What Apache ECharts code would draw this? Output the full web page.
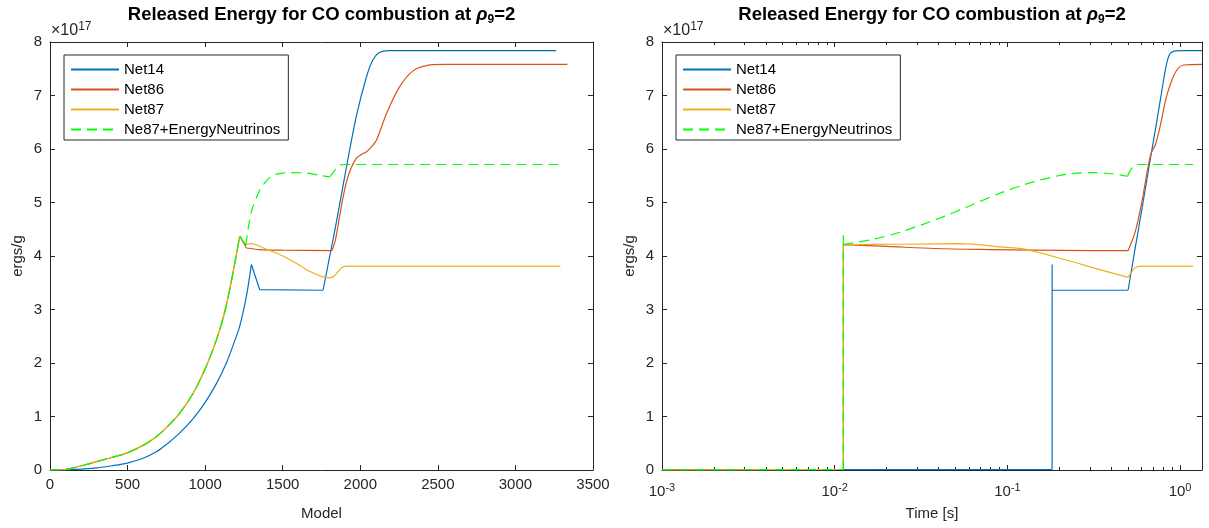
<!DOCTYPE html>
<html lang="en">
<head>
<meta charset="UTF-8">
<title>Released Energy for CO combustion</title>
<style>
    html, body {margin: 0; padding: 0; background: #fff;}
    #main {width: 1209px; height: 528px;}
</style>
</head>
<body>
<div id="main"></div>
<script src="https://cdn.jsdelivr.net/npm/echarts@6/dist/echarts.min.js"></script>
<script>
// series names / colours (MATLAB default order + green dashed)
var seriesNames = ['Net14', 'Net86', 'Net87', 'Ne87+EnergyNeutrinos'];
var seriesColors = ['#0072BD', '#D95319', '#EDB120', '#00FF00'];

// y ticks (x 10^17 ergs/g)
var yTicks = [0, 1, 2, 3, 4, 5, 6, 7, 8];
// model axis ticks
var modelTicks = [0, 500, 1000, 1500, 2000, 2500, 3000, 3500];
// time axis (log) ticks
var timeMajorTicks = [0.001, 0.01, 0.1, 1];
var timeMinorTicks = [0.002, 0.003, 0.004, 0.005, 0.006, 0.007, 0.008, 0.009,
    0.02, 0.03, 0.04, 0.05, 0.06, 0.07, 0.08, 0.09,
    0.2, 0.3, 0.4, 0.5, 0.6, 0.7, 0.8, 0.9];

// null = break in the line (keeps sharp corners when smoothing)

// ---- left panel: energy vs model number ----
var modelNet14 = [[0, 0], [100, 0.003], [169, 0.01], [300, 0.04], [400, 0.08], [498, 0.13], [600, 0.22],
    [685, 0.34], [760, 0.5], [835, 0.69], [920, 0.95], [997, 1.25], [1070, 1.6], [1137, 2.0],
    [1180, 2.33], [1223, 2.69], [1266, 3.25], [1298, 3.84], null,
    [1298, 3.84], [1352, 3.37], null,
    [1352, 3.37], [1760, 3.36], null,
    [1760, 3.36], [1800, 3.95], [1845, 4.62], [1910, 5.65], [1975, 6.62], [2040, 7.35], [2080, 7.66],
    [2120, 7.8], [2180, 7.84], [3263, 7.84]];
// common rise shared by Net86, Net87 and the neutrino curve
var modelRise = [[0, 0], [83, 0.005], [150, 0.04], [255, 0.12], [380, 0.22], [498, 0.32], [600, 0.46],
    [685, 0.62], [760, 0.82], [835, 1.06], [920, 1.42], [997, 1.87], [1050, 2.25], [1094, 2.62],
    [1130, 3.0], [1158, 3.37], [1190, 3.85], [1223, 4.37]];
var modelNet86Tail = [null, [1223, 4.37], [1266, 4.15], null,
    [1266, 4.15], [1350, 4.12], [1500, 4.11], [1818, 4.1], null,
    [1818, 4.1], [1840, 4.3], [1870, 4.8], [1900, 5.25], [1932, 5.58], [1975, 5.83], [2010, 5.9],
    [2040, 5.95], [2075, 6.05], [2105, 6.17], [2170, 6.67], [2255, 7.17], [2340, 7.46], [2426, 7.56],
    [2550, 7.58], [3335, 7.58]];
var modelNet87Tail = [null, [1223, 4.37], [1262, 4.21], null,
    [1262, 4.21], [1298, 4.23], [1400, 4.12], [1502, 4.0], [1600, 3.84], [1676, 3.71], [1750, 3.62],
    [1801, 3.59], null,
    [1801, 3.59], [1830, 3.62], [1860, 3.72], [1885, 3.79], [1920, 3.81], [3290, 3.81]];
var modelNuTail = [null, [1223, 4.37], [1262, 4.2], null,
    [1262, 4.2], [1276, 4.49], [1300, 4.85], [1352, 5.23], [1400, 5.42], [1438, 5.51], [1500, 5.55],
    [1545, 5.56], [1652, 5.55], [1750, 5.5], [1803, 5.48], null,
    [1803, 5.48], [1835, 5.6], [1868, 5.7], [1900, 5.71], [3290, 5.71]];

// ---- right panel: energy vs time ----
var timeNet14 = [[0.001, 0.003], [0.1816, 0.01], null,
    [0.1816, 0.01], [0.1816, 3.84], null,
    [0.1816, 3.84], [0.1816, 3.36], null,
    [0.1816, 3.36], [0.5, 3.36], null,
    [0.5, 3.36], [0.55, 4.15], [0.6, 4.86], [0.67, 5.78], [0.73, 6.48], [0.79, 7.15], [0.83, 7.55],
    [0.87, 7.77], [0.92, 7.83], [1.0, 7.84], [1.34, 7.84]];
var timeNet86 = [[0.001, 0], [0.01122, 0.01], null,
    [0.01122, 0.01], [0.01122, 4.21], null,
    [0.01122, 4.21], [0.02, 4.18], [0.0377, 4.14], [0.08, 4.12], [0.143, 4.11], [0.3, 4.1], [0.5, 4.1], null,
    [0.5, 4.1], [0.55, 4.45], [0.6, 5.0], [0.647, 5.6], [0.68, 5.92], [0.72, 6.08], [0.77, 6.45],
    [0.83, 6.95], [0.9, 7.3], [0.97, 7.5], [1.05, 7.57], [1.34, 7.58]];
var timeNet87 = [[0.001, 0], [0.01122, 0.01], null,
    [0.01122, 0.01], [0.01122, 4.21], null,
    [0.01122, 4.21], [0.0242, 4.22], [0.0537, 4.23], [0.0916, 4.17], [0.13, 4.12], [0.222, 3.92],
    [0.347, 3.74], [0.5, 3.6], null,
    [0.5, 3.6], [0.53, 3.72], [0.555, 3.79], [0.62, 3.81], [1.19, 3.81]];
var timeNu = [[0.001, 0], [0.01122, 0.01], null,
    [0.01122, 0.01], [0.01122, 4.39], null,
    [0.01122, 4.39], [0.01122, 4.22], null,
    [0.01122, 4.22], [0.016, 4.3], [0.0242, 4.45], [0.04, 4.7], [0.0589, 4.92], [0.09, 5.17],
    [0.143, 5.39], [0.223, 5.53], [0.318, 5.56], [0.42, 5.53], [0.496, 5.49], null,
    [0.496, 5.49], [0.52, 5.62], [0.555, 5.71], [1.19, 5.71]];

var font = 'Liberation Sans, Arial, sans-serif';
var axisColor = '#262626';
var titleText = '{t|Released Energy for CO combustion at }{r|ρ}{s|9}{t|=2}';
var titleRich = {
    t: {fontFamily: font, fontSize: 18.5, fontWeight: 'bold', color: '#000'},
    r: {fontFamily: font, fontSize: 18.5, fontWeight: 'bold', fontStyle: 'italic', color: '#000'},
    s: {fontFamily: font, fontSize: 12, fontWeight: 'bold', color: '#000', padding: [10, 0, 0, 0]}
};

function axis(gridIndex, position, showLabel) {
    return {
        gridIndex: gridIndex,
        position: position,
        axisLine: {show: true, onZero: false, lineStyle: {color: axisColor, width: 1}},
        axisTick: {show: true, inside: true, length: 5, lineStyle: {color: axisColor}},
        axisLabel: {show: showLabel, color: axisColor, fontFamily: font, fontSize: 15},
        splitLine: {show: false},
        nameTextStyle: {color: axisColor, fontFamily: font, fontSize: 15}
    };
}

function modelAxis(position, showLabel) {
    var a = axis(0, position, showLabel);
    a.type = 'value';
    a.min = modelTicks[0];
    a.max = modelTicks[modelTicks.length - 1];
    a.interval = 500;
    a.axisLabel.margin = 7;
    a.axisLabel.formatter = function (v) { return String(v); };
    return a;
}

function timeAxis(position, ticks, tickLen, showLabel) {
    var a = axis(1, position, showLabel);
    a.type = 'log';
    a.logBase = 10;
    a.min = 0.001;
    a.max = 1.34;
    a.axisTick.customValues = ticks;
    a.axisTick.length = tickLen;
    a.axisLabel.customValues = timeMajorTicks;
    a.axisLabel.margin = 12;
    a.axisLabel.formatter = function (v) {
        var e = Math.round(Math.log10(v));
        if (Math.abs(Math.log10(v) - e) > 1e-6) return '';
        return '{b|10}{p|' + e + '}';
    };
    a.axisLabel.rich = {
        b: {fontFamily: font, fontSize: 15, color: axisColor},
        p: {fontFamily: font, fontSize: 11, color: axisColor, padding: [0, 0, 9, 0]}
    };
    return a;
}

function energyAxis(gridIndex, position, showLabel) {
    var a = axis(gridIndex, position, showLabel);
    a.type = 'value';
    a.min = yTicks[0];
    a.max = yTicks[yTicks.length - 1];
    a.interval = 1;
    a.axisLabel.margin = 8;
    return a;
}

var xModelBottom = modelAxis('bottom', true);
xModelBottom.name = 'Model';
xModelBottom.nameLocation = 'middle';
xModelBottom.nameGap = 36;
var xModelTop = modelAxis('top', false);
xModelTop.name = titleText;
xModelTop.nameLocation = 'middle';
xModelTop.nameGap = 16;
xModelTop.nameTextStyle = {rich: titleRich};

var xTimeBottom = timeAxis('bottom', timeMajorTicks, 5, true);
xTimeBottom.name = 'Time [s]';
xTimeBottom.nameLocation = 'middle';
xTimeBottom.nameGap = 36;
var xTimeBottomMinor = timeAxis('bottom', timeMinorTicks, 3, false);
xTimeBottomMinor.axisLine.show = false;
var xTimeTop = timeAxis('top', timeMajorTicks, 5, false);
xTimeTop.name = titleText;
xTimeTop.nameLocation = 'middle';
xTimeTop.nameGap = 16;
xTimeTop.nameTextStyle = {rich: titleRich};
var xTimeTopMinor = timeAxis('top', timeMinorTicks, 3, false);
xTimeTopMinor.axisLine.show = false;

var yLeft0 = energyAxis(0, 'left', true);
yLeft0.name = 'ergs/g';
yLeft0.nameLocation = 'middle';
yLeft0.nameGap = 25;
var yLeft1 = energyAxis(1, 'left', true);
yLeft1.name = 'ergs/g';
yLeft1.nameLocation = 'middle';
yLeft1.nameGap = 25;

function lineSeries(i, xIdx, yIdx, data) {
    return {
        type: 'line',
        name: seriesNames[i],
        xAxisIndex: xIdx,
        yAxisIndex: yIdx,
        data: data.map(function (p) { return p || ['-', '-']; }),
        symbol: 'none',
        showSymbol: false,
        smooth: 0.3,
        connectNulls: false,
        color: seriesColors[i],
        lineStyle: {color: seriesColors[i], width: 1.2, type: i === 3 ? [10, 6] : 'solid'},
        animation: false
    };
}

function legend(left) {
    return {
        left: left,
        top: 55,
        orient: 'vertical',
        data: seriesNames,
        itemWidth: 48,
        itemHeight: 14,
        itemGap: 5,
        padding: [7, 8, 3, 6],
        borderColor: axisColor,
        borderWidth: 1,
        backgroundColor: '#fff',
        itemStyle: {opacity: 0},
        textStyle: {fontFamily: font, fontSize: 15, color: '#000'}
    };
}

function expo(x) {
    return {
        type: 'text',
        x: x,
        y: 31,
        style: {
            text: '{a|×10}{b|17}',
            verticalAlign: 'middle',
            rich: {
                a: {fontFamily: font, fontSize: 16, fill: axisColor, color: axisColor},
                b: {fontFamily: font, fontSize: 12, fill: axisColor, color: axisColor, padding: [0, 0, 9, 0]}
            }
        }
    };
}

var chart = echarts.init(document.getElementById('main'));
chart.setOption({
    animation: false,
    grid: [
        {left: 50, right: 1209 - 593, top: 42, bottom: 58, outerBoundsMode: 'none'},
        {left: 662, right: 7, top: 42, bottom: 58, outerBoundsMode: 'none'}
    ],
    legend: [legend(64), legend(676)],
    xAxis: [xModelBottom, xModelTop, xTimeBottom, xTimeBottomMinor, xTimeTop, xTimeTopMinor],
    yAxis: [yLeft0, energyAxis(0, 'right', false), yLeft1, energyAxis(1, 'right', false)],
    graphic: [expo(51), expo(663)],
    series: [
        lineSeries(0, 0, 0, modelNet14),
        lineSeries(1, 0, 0, modelRise.concat(modelNet86Tail)),
        lineSeries(2, 0, 0, modelRise.concat(modelNet87Tail)),
        lineSeries(3, 0, 0, modelRise.concat(modelNuTail)),
        lineSeries(0, 2, 2, timeNet14),
        lineSeries(1, 2, 2, timeNet86),
        lineSeries(2, 2, 2, timeNet87),
        lineSeries(3, 2, 2, timeNu)
    ]
});
</script>
</body>
</html>
